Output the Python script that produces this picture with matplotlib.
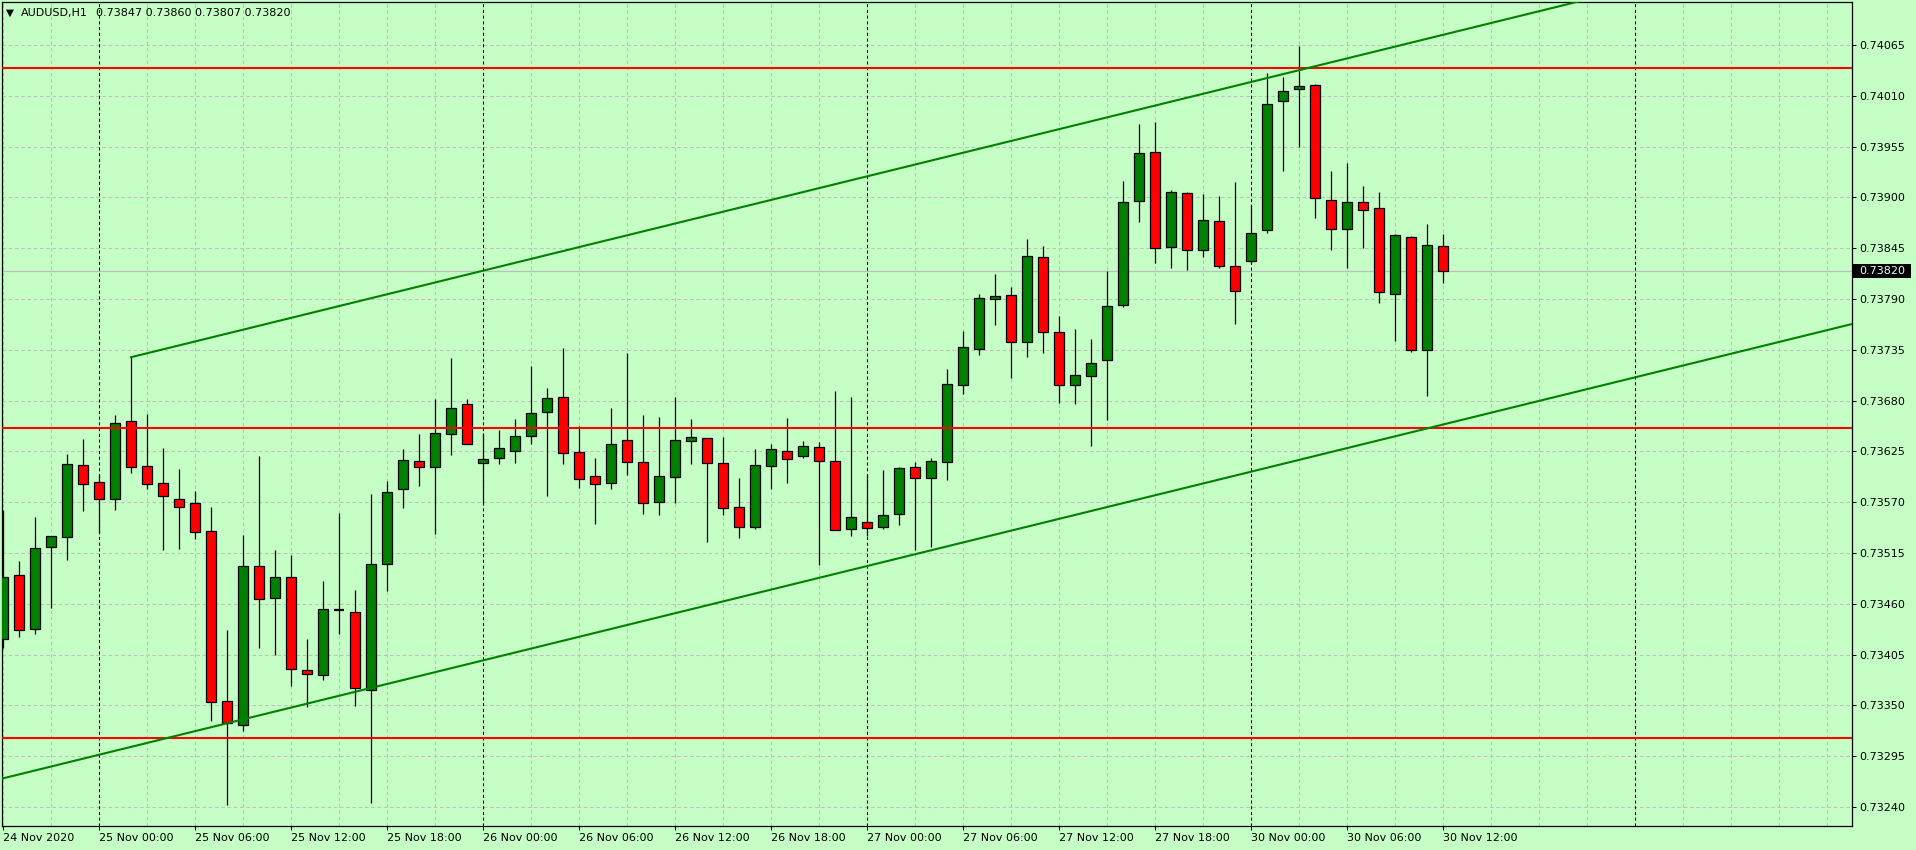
import matplotlib
matplotlib.use('Agg')
import matplotlib.pyplot as plt
import matplotlib.transforms as mtransforms
from matplotlib.patches import Rectangle

# ---- data (AUDUSD H1, 24 Nov 18:00 .. 30 Nov 12:00) ----
symbol = 'AUDUSD,H1'

opens = [
    0.73422, 0.73491, 0.73433, 0.73521, 0.73532, 0.73610, 0.73592, 0.73573, 0.73658, 0.73609,
    0.73591, 0.73573, 0.73569, 0.73539, 0.73355, 0.73329, 0.73501, 0.73466, 0.73489, 0.73388,
    0.73383, 0.73453, 0.73451, 0.73367, 0.73503, 0.73584, 0.73615, 0.73608, 0.73644, 0.73676,
    0.73612, 0.73618, 0.73625, 0.73642, 0.73668, 0.73684, 0.73624, 0.73598, 0.73591, 0.73637,
    0.73614, 0.73570, 0.73597, 0.73636, 0.73640, 0.73612, 0.73565, 0.73543, 0.73609, 0.73625,
    0.73620, 0.73630, 0.73615, 0.73541, 0.73549, 0.73543, 0.73557, 0.73608, 0.73596, 0.73614,
    0.73697, 0.73736, 0.73790, 0.73794, 0.73743, 0.73835, 0.73754, 0.73697, 0.73707, 0.73724,
    0.73783, 0.73896, 0.73949, 0.73846, 0.73905, 0.73843, 0.73874, 0.73826, 0.73831, 0.73865,
    0.74004, 0.74017, 0.74022, 0.73897, 0.73866, 0.73895, 0.73889, 0.73795, 0.73857, 0.73735,
    0.73847]
highs = [
    0.73562, 0.73506, 0.73554, 0.73533, 0.73622, 0.73638, 0.73599, 0.73664, 0.73727, 0.73665,
    0.73629, 0.73606, 0.73582, 0.73565, 0.73432, 0.73534, 0.73620, 0.73518, 0.73513, 0.73422,
    0.73485, 0.73558, 0.73475, 0.73579, 0.73593, 0.73628, 0.73644, 0.73682, 0.73726, 0.73682,
    0.73645, 0.73648, 0.73660, 0.73717, 0.73694, 0.73737, 0.73652, 0.73618, 0.73672, 0.73732,
    0.73664, 0.73662, 0.73684, 0.73660, 0.73640, 0.73641, 0.73596, 0.73628, 0.73633, 0.73661,
    0.73636, 0.73635, 0.73690, 0.73684, 0.73599, 0.73605, 0.73608, 0.73614, 0.73618, 0.73714,
    0.73755, 0.73795, 0.73817, 0.73803, 0.73855, 0.73847, 0.73772, 0.73758, 0.73747, 0.73820,
    0.73918, 0.73979, 0.73982, 0.73908, 0.73906, 0.73904, 0.73902, 0.73917, 0.73892, 0.74035,
    0.74030, 0.74064, 0.74023, 0.73929, 0.73937, 0.73912, 0.73906, 0.73860, 0.73858, 0.73871,
    0.73860]
lows = [
    0.73412, 0.73424, 0.73427, 0.73455, 0.73507, 0.73560, 0.73537, 0.73562, 0.73602, 0.73584,
    0.73518, 0.73519, 0.73530, 0.73333, 0.73242, 0.73322, 0.73412, 0.73405, 0.73371, 0.73348,
    0.73377, 0.73427, 0.73349, 0.73244, 0.73474, 0.73564, 0.73588, 0.73536, 0.73621, 0.73633,
    0.73569, 0.73611, 0.73612, 0.73633, 0.73577, 0.73611, 0.73585, 0.73546, 0.73584, 0.73599,
    0.73557, 0.73556, 0.73569, 0.73611, 0.73527, 0.73556, 0.73531, 0.73541, 0.73584, 0.73591,
    0.73618, 0.73502, 0.73540, 0.73533, 0.73533, 0.73541, 0.73545, 0.73518, 0.73521, 0.73594,
    0.73687, 0.73729, 0.73762, 0.73704, 0.73727, 0.73732, 0.73677, 0.73676, 0.73631, 0.73659,
    0.73781, 0.73873, 0.73829, 0.73824, 0.73821, 0.73835, 0.73824, 0.73763, 0.73829, 0.73861,
    0.73929, 0.73955, 0.73878, 0.73843, 0.73824, 0.73845, 0.73786, 0.73745, 0.73733, 0.73685,
    0.73807]
closes = [
    0.73489, 0.73432, 0.73520, 0.73533, 0.73611, 0.73590, 0.73573, 0.73656, 0.73608, 0.73590,
    0.73577, 0.73565, 0.73538, 0.73354, 0.73331, 0.73501, 0.73465, 0.73489, 0.73389, 0.73384,
    0.73454, 0.73453, 0.73369, 0.73503, 0.73581, 0.73616, 0.73608, 0.73645, 0.73672, 0.73633,
    0.73617, 0.73629, 0.73642, 0.73667, 0.73683, 0.73623, 0.73595, 0.73590, 0.73633, 0.73614,
    0.73569, 0.73598, 0.73637, 0.73641, 0.73612, 0.73564, 0.73543, 0.73610, 0.73628, 0.73617,
    0.73631, 0.73615, 0.73540, 0.73554, 0.73542, 0.73556, 0.73607, 0.73596, 0.73615, 0.73698,
    0.73738, 0.73791, 0.73793, 0.73743, 0.73837, 0.73754, 0.73697, 0.73708, 0.73721, 0.73782,
    0.73895, 0.73948, 0.73845, 0.73906, 0.73843, 0.73876, 0.73826, 0.73799, 0.73861, 0.74001,
    0.74015, 0.74021, 0.73899, 0.73866, 0.73895, 0.73886, 0.73798, 0.73859, 0.73735, 0.73848,
    0.73820]

# bar index of each time label (one bar per hour)
xtick_pos = [0, 6, 12, 18, 24, 30, 36, 42, 48, 54, 60, 66, 72, 78, 84, 90]
xtick_labels = ['24 Nov 2020', '25 Nov 00:00', '25 Nov 06:00', '25 Nov 12:00', '25 Nov 18:00',
                '26 Nov 00:00', '26 Nov 06:00', '26 Nov 12:00', '26 Nov 18:00',
                '27 Nov 00:00', '27 Nov 06:00', '27 Nov 12:00', '27 Nov 18:00',
                '30 Nov 00:00', '30 Nov 06:00', '30 Nov 12:00']
day_separators = [6, 30, 54, 78, 102]

yticks = [0.73240, 0.73295, 0.73350, 0.73405, 0.73460, 0.73515, 0.73570, 0.73625,
          0.73680, 0.73735, 0.73790, 0.73845, 0.73900, 0.73955, 0.74010, 0.74065]

# horizontal levels and channel lines (bar index, price)
levels = [0.74040, 0.73650, 0.73315]
upper_p1 = (8, 0.73727)
upper_p2 = (82, 0.74042)
lower_p1 = (0, 0.73271)
lower_p2 = (74, 0.73586)
bid = 0.73820

BG = '#C5FFC5'
GRID = '#C0C0C0'
BULL = '#008000'
BEAR = '#FF0000'

W, H, DPI = 1916, 850, 100
XMIN, XMAX = -0.0625, 115.5625
YMIN, YMAX = 0.732194, 0.741116
PX = (YMAX - YMIN) / 824  # price per pixel

plt.rcParams['font.family'] = 'DejaVu Sans'
plt.rcParams['font.size'] = 8

fig = plt.figure(figsize=(W / DPI, H / DPI), dpi=DPI, facecolor=BG)
ax = fig.add_axes([2 / W, 24 / H, 1850 / W, 824 / H], facecolor=BG)
ax.set_xlim(XMIN, XMAX)
ax.set_ylim(YMIN, YMAX)

# grid
for yv in yticks:
    ax.axhline(yv, color=GRID, lw=0.75, ls=(0, (3.5, 2.5)), zorder=0.5)
for xv in range(0, 116, 3):
    if xv in day_separators:
        ax.axvline(xv, color='black', lw=0.75, ls=(0, (3, 2.5)), zorder=0.6)
    else:
        ax.axvline(xv, color=GRID, lw=0.75, ls=(0, (3.5, 2.5)), zorder=0.5)

# bid line
ax.axhline(bid, color='#BEBEBE', lw=0.9, zorder=0.7)

# candles
idx = list(range(len(opens)))
ax.vlines(idx, lows, highs, color='black', lw=0.9, zorder=2)
body_x, body_bot, body_h, body_c = [], [], [], []
doji_x, doji_y = [], []
for i, (o, c) in enumerate(zip(opens, closes)):
    if c == o:
        doji_x.append(i)
        doji_y.append(o)
        continue
    body_x.append(i)
    body_bot.append(min(o, c))
    body_h.append(abs(c - o))
    body_c.append(BULL if c > o else BEAR)
ax.bar(body_x, body_h, bottom=body_bot, width=0.66, color=body_c,
       edgecolor='black', linewidth=0.9, zorder=3)
ax.hlines(doji_y, [d - 0.33 for d in doji_x], [d + 0.33 for d in doji_x],
          color='black', lw=1.6, zorder=3)

# horizontal levels
for lv in levels:
    ax.axhline(lv, color=BEAR, lw=1.5, zorder=5)

# channel lines
slope_u = (upper_p2[1] - upper_p1[1]) / (upper_p2[0] - upper_p1[0])
ax.plot([upper_p1[0], XMAX], [upper_p1[1], upper_p1[1] + slope_u * (XMAX - upper_p1[0])],
        color=BULL, lw=1.5, zorder=5)
slope_l = (lower_p2[1] - lower_p1[1]) / (lower_p2[0] - lower_p1[0])
ax.plot([XMIN, XMAX], [lower_p1[1] + slope_l * (XMIN - lower_p1[0]),
                       lower_p1[1] + slope_l * (XMAX - lower_p1[0])],
        color=BULL, lw=1.5, zorder=5)

# axes
for sp in ax.spines.values():
    sp.set_color('black')
    sp.set_linewidth(0.9)
ax.yaxis.tick_right()
ax.set_yticks(yticks)
ax.set_yticklabels([f'{v:.5f}' for v in yticks])
ax.set_xticks(xtick_pos)
ax.set_xticklabels(xtick_labels, ha='left')
ax.tick_params(axis='y', direction='out', length=3, width=0.75, pad=2.5, colors='black')
ax.tick_params(axis='x', direction='out', length=3, width=0.75, pad=2.0, colors='black')

# bid label on price scale
tr = mtransforms.blended_transform_factory(fig.transFigure, ax.transData)
fig.add_artist(Rectangle((1853 / W, bid - 7 * PX), 58 / W, 14 * PX, transform=tr,
                         facecolor='black', edgecolor='none', zorder=6))
fig.text(1859 / W, bid, f'{bid:.5f}', transform=tr, ha='left', va='center',
         color='#EAFFFF', fontsize=8, zorder=7)

# header
ytxt = 1 - 13 / H
fig.text(6 / W, ytxt, '\u25BC', fontsize=7.5, va='center', ha='left')
fig.text(21 / W, ytxt, symbol, va='center', ha='left')
fig.text(96 / W, ytxt, f'{opens[-1]:.5f} {highs[-1]:.5f} {lows[-1]:.5f} {closes[-1]:.5f}',
         va='center', ha='left')

fig.savefig('out.png', dpi=DPI, facecolor=BG)
